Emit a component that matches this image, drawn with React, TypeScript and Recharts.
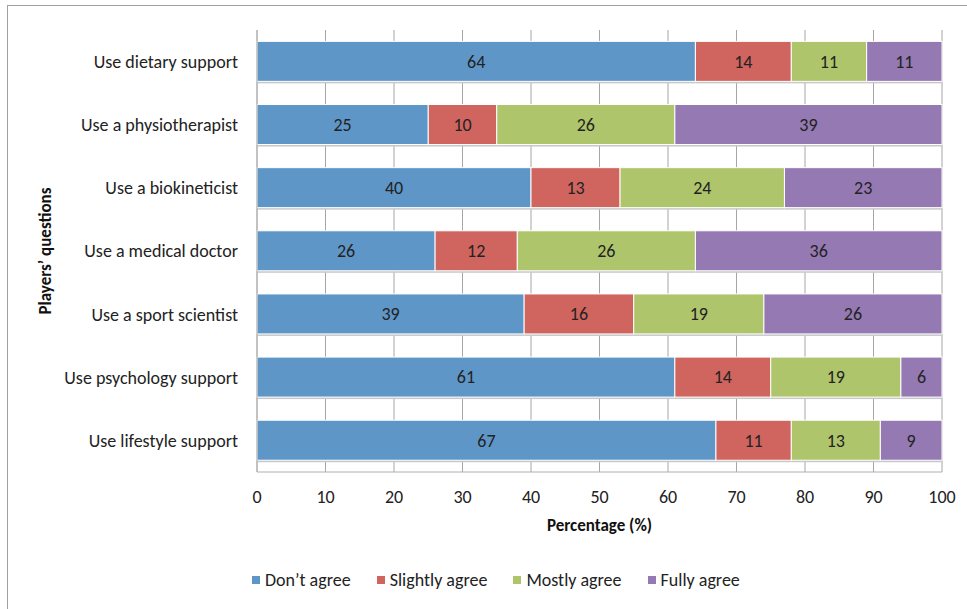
import React from "react";
import {
  BarChart,
  Bar,
  XAxis,
  YAxis,
  CartesianGrid,
  Legend,
  LabelList,
} from "recharts";

const questions = [
  "Use dietary support",
  "Use a physiotherapist",
  "Use a biokineticist",
  "Use a medical doctor",
  "Use a sport scientist",
  "Use psychology support",
  "Use lifestyle support",
];
const dontAgree = [64, 25, 40, 26, 39, 61, 67];
const slightlyAgree = [14, 10, 13, 12, 16, 14, 11];
const mostlyAgree = [11, 26, 24, 26, 19, 19, 13];
const fullyAgree = [11, 39, 23, 36, 26, 6, 9];
const xTicks = [0, 10, 20, 30, 40, 50, 60, 70, 80, 90, 100];

const series = [
  { key: "dont", name: "Don’t agree", color: "#5f96c8" },
  { key: "slightly", name: "Slightly agree", color: "#d0645f" },
  { key: "mostly", name: "Mostly agree", color: "#aec56c" },
  { key: "fully", name: "Fully agree", color: "#9479b3" },
];

const data = questions.map((q, i) => ({
  name: q,
  dont: dontAgree[i],
  slightly: slightlyAgree[i],
  mostly: mostlyAgree[i],
  fully: fullyAgree[i],
}));

const FONT = "Carlito, Lato, 'Open Sans', sans-serif";

// bar segment with the faint shadow line Excel draws under it
const ShadowBar = (props: any) => {
  const { x, y, width, height, fill } = props;
  if (width == null || height == null) return null;
  return (
    <g>
      <rect x={x} y={y + height} width={width} height={2} fill="#c8c8c8" />
      <rect x={x} y={y} width={width} height={height} fill={fill} stroke="#fff" strokeWidth={1} />
    </g>
  );
};

// legend built straight from the series list so order stays as in Excel
const LegendContent = () => (
  <div
    style={{
      display: "flex",
      paddingLeft: 252,
      paddingTop: 8,
      fontFamily: FONT,
      fontSize: 18,
      color: "#222",
    }}
  >
    {series.map((s) => (
      <div key={s.key} style={{ display: "flex", alignItems: "center", marginRight: 26 }}>
        <span style={{ width: 8, height: 8, background: s.color, marginRight: 5, display: "inline-block" }} />
        <span>{s.name}</span>
      </div>
    ))}
  </div>
);

export default function App() {
  return (
    <div
      style={{
        position: "fixed",
        left: 0,
        top: 0,
        width: 967,
        height: 609,
        overflow: "hidden",
        background: "#fff",
      }}
    >
      <div
        style={{
          position: "absolute",
          left: 7,
          top: 5,
          width: 1000,
          height: 700,
          border: "1px solid #a0a0a0",
        }}
      />
      <div style={{ position: "absolute", left: 0, top: 0 }}>
        <BarChart
          width={967}
          height={609}
          data={data}
          layout="vertical"
          margin={{ top: 30, right: 25, left: 20, bottom: 18 }}
          barCategoryGap="18%"
        >
          <CartesianGrid horizontal={false} stroke="#a6a6a6" />
          <XAxis
            type="number"
            domain={[0, 100]}
            ticks={xTicks}
            height={89}
            tickLine={false}
            tickSize={0}
            tickMargin={18}
            axisLine={{ stroke: "#b0b0b0" }}
            tick={{ fontSize: 18, fill: "#222", fontFamily: FONT }}
            label={{
              value: "Percentage (%)",
              position: "insideBottom",
              offset: 30,
              style: { fontSize: 17, fontWeight: 700, fill: "#111", fontFamily: FONT },
            }}
          />
          <YAxis
            type="category"
            dataKey="name"
            width={237}
            tickLine={false}
            tickSize={0}
            tickMargin={19}
            axisLine={{ stroke: "#b0b0b0" }}
            tick={{ fontSize: 18, fill: "#222", fontFamily: FONT }}
            label={(p: any) => {
              const vb = p.viewBox || {};
              const cy = (vb.y || 0) + (vb.height || 0) / 2;
              return (
                <text
                  x={45}
                  y={cy}
                  transform={`rotate(-90, 45, ${cy})`}
                  textAnchor="middle"
                  dominantBaseline="central"
                  style={{ fontSize: 17, fontWeight: 700, fill: "#111", fontFamily: FONT }}
                >
                  Players’ questions
                </text>
              );
            }}
          />
          <Legend
            verticalAlign="bottom"
            height={30}
            wrapperStyle={{ left: 0, width: 967 }}
            content={<LegendContent />}
          />
          {series.map((s) => (
            <Bar
              key={s.key}
              dataKey={s.key}
              name={s.name}
              stackId="a"
              fill={s.color}
              shape={<ShadowBar />}
              isAnimationActive={false}
            >
              <LabelList
                dataKey={s.key}
                position="center"
                style={{ fontSize: 18, fill: "#222", fontFamily: FONT }}
              />
            </Bar>
          ))}
        </BarChart>
      </div>
    </div>
  );
}
